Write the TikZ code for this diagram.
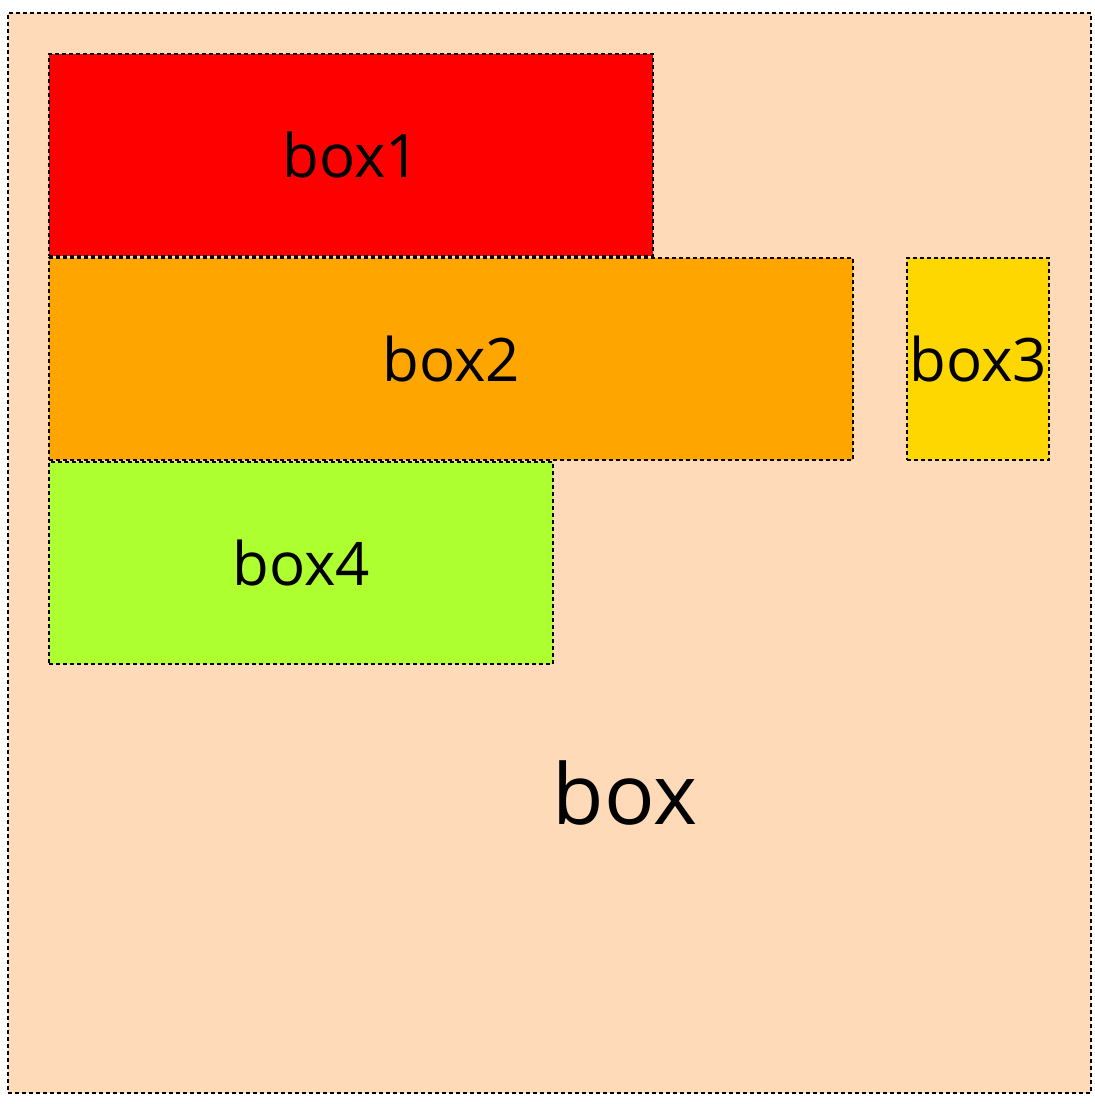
\documentclass[tikz,border=0pt]{standalone}
\usepackage{fontspec}
\setmainfont{Open Sans}
\usetikzlibrary{positioning}
\definecolor{BoxPeach}{HTML}{FFDAB9}
\definecolor{BoxOrange}{HTML}{FFA500}
\definecolor{BoxGold}{HTML}{FFD700}
\definecolor{BoxLime}{HTML}{ADFF2F}

\begin{document}
\begin{tikzpicture}[x=0.5pt,y=-0.5pt,node distance=0pt]
    \tikzset{cell/.style={draw,dash pattern=on 2pt off 1.5pt,line width=1pt,inner sep=0pt,
      minimum height=101pt,anchor=north west,font=\fontsize{30}{36}\selectfont}}
    \useasboundingbox (0,0) rectangle (1094,1104);
    \node[cell,fill=BoxPeach,minimum width=541.5pt,minimum height=540pt] (box) at (7,12) {};
    \node[cell,fill=red,minimum width=302pt] (box1) at (48,53) {box1};
    \node[cell,fill=BoxOrange,minimum width=402pt,below right=0pt and 0pt of box1.south west] (box2) {box2};
    \node[cell,fill=BoxGold,minimum width=71pt,below right=0pt and 26pt of box2.north east] (box3) {box3};
    \node[cell,fill=BoxLime,minimum width=252pt,below right=0pt and 0pt of box2.south west] (box4) {box4};
    \node[font=\fontsize{42}{50}\selectfont,inner sep=0pt] (boxlabel) at (625,793) {box};
  \end{tikzpicture}
\end{document}
